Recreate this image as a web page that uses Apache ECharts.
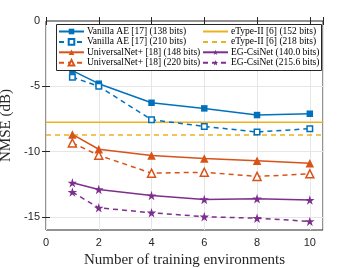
<!DOCTYPE html>
<html><head><meta charset="utf-8">
<script src="https://cdn.jsdelivr.net/npm/echarts@6/dist/echarts.min.js"></script>
<style>html,body{margin:0;padding:0;background:#fff}#c{width:357px;height:268px}</style>
</head><body><div id="c"></div>
<script>
const envs = [1, 2, 4, 6, 8, 10];
const vanilla138 = [-3.8, -4.8, -6.26, -6.69, -7.2, -7.1];
const vanilla210 = [-4.3, -5.0, -7.56, -8.07, -8.5, -8.24];
const univ148 = [-8.68, -9.82, -10.3, -10.53, -10.69, -10.89];
const univ220 = [-9.34, -10.28, -11.65, -11.58, -11.9, -11.7];
const etype152 = -7.76;
const etype218 = -8.73;
const eg140 = [-12.39, -12.9, -13.36, -13.66, -13.6, -13.71];
const eg2156 = [-13.1, -14.3, -14.68, -14.98, -15.1, -15.34];
const xTicks = [0, 2, 4, 6, 8, 10];
const yTicks = [-15, -10, -5, 0];
const names = ['Vanilla AE [17] (138 bits)', 'Vanilla AE [17] (210 bits)', 'UniversalNet+ [18] (148 bits)', 'UniversalNet+ [18] (220 bits)',
  'eType-II [6] (152 bits)', 'eType-II [6] (218 bits)', 'EG-CsiNet (140.0 bits)', 'EG-CsiNet (215.6 bits)'];

const BLUE = '#0072BD', ORANGE = '#D95319', YELLOW = '#EDB120', PURPLE = '#7E2F8E';
const STAR = 'path://M50,0 L61.8,36.2 L100,36.2 L69.1,58.8 L80.9,95.1 L50,72.5 L19.1,95.1 L30.9,58.8 L0,36.2 L38.2,36.2 Z';
const pts = arr => envs.map((x, i) => [x, arr[i]]);

function line(name, data, color, dashed, symbol, size, hollow) {
  return {
    name, type: 'line', data: pts(data), symbol, symbolSize: size,
    lineStyle: { color, width: 1.5, type: dashed ? [5, 4] : 'solid' },
    itemStyle: { color: hollow ? '#fff' : color, borderColor: color, borderWidth: hollow ? 1.5 : 0 },
    emphasis: { disabled: true }, animation: false, z: 3
  };
}
function hline(name, y, color, dashed) {
  return {
    name, type: 'line', data: [[0, y], [10.5, y]], symbol: 'none',
    lineStyle: { color, width: 1.5, type: dashed ? [5, 4] : 'solid' },
    itemStyle: { color }, animation: false, z: 2
  };
}
const axisText = { fontFamily: 'Liberation Sans', fontSize: 11, color: '#262626' };
const nameText = { fontFamily: 'Liberation Serif', fontSize: 15, color: '#262626' };
const tick = { show: true, inside: true, length: 4, lineStyle: { color: '#262626' } };
function legend(left, data) {
  return {
    orient: 'vertical', left, top: 26.5, padding: 0, z: 10,
    itemWidth: 25, itemHeight: 7, itemGap: 0.4,
    selectedMode: false,
    textStyle: { fontFamily: 'Liberation Serif', fontSize: 9.5, color: '#000', lineHeight: 10, padding: [0, 0, 0, -2] },
    data
  };
}
const noSymbol = n => ({ name: n, itemStyle: { opacity: 0 } });

const chart = echarts.init(document.getElementById('c'), null, { renderer: 'canvas' });
chart.setOption({
  backgroundColor: '#fff',
  animation: false,
  grid: { left: 46, right: 34, top: 21, bottom: 38, show: true, borderColor: '#262626', borderWidth: 1,
    containLabel: false, outerBoundsMode: 'none' },
  xAxis: [{
    type: 'value', min: 0, max: 10.5, interval: 2,
    name: 'Number of training environments', nameLocation: 'middle', nameGap: 21,
    nameTextStyle: nameText,
    axisLine: { show: false }, axisTick: tick,
    axisLabel: Object.assign({ margin: 7, formatter: v => xTicks.includes(v) ? String(v) : '' }, axisText),
    splitLine: { show: true, lineStyle: { color: '#e6e6e6', width: 1 } }
  }, {
    type: 'value', min: 0, max: 10.5, interval: 2, position: 'top',
    axisLine: { show: false }, axisTick: tick, axisLabel: { show: false }, splitLine: { show: false }
  }],
  yAxis: [{
    type: 'value', min: -16, max: 0,
    name: 'NMSE (dB)', nameLocation: 'middle', nameGap: 24,
    nameTextStyle: nameText,
    axisLine: { show: false },
    axisTick: Object.assign({ customValues: [-15, -10, -5] }, tick),
    axisLabel: Object.assign({ margin: 6, customValues: yTicks }, axisText),
    splitLine: { show: true, lineStyle: { color: '#e6e6e6', width: 1 } }
  }, {
    type: 'value', min: -16, max: 0, position: 'right',
    axisLine: { show: false },
    axisTick: Object.assign({ customValues: [-15, -10, -5] }, tick),
    axisLabel: { show: false, customValues: yTicks }, splitLine: { show: false }
  }],
  graphic: [{
    type: 'rect', shape: { x: 56.5, y: 24.5, width: 265, height: 46 }, z: 5,
    style: { fill: '#fff', stroke: '#262626', lineWidth: 1 }, silent: true
  }],
  legend: [legend(58, names.slice(0, 4)),
    legend(202, [noSymbol(names[4]), noSymbol(names[5]), names[6], names[7]])],
  series: [
    line(names[0], vanilla138, BLUE, false, 'rect', 6.5, false),
    line(names[1], vanilla210, BLUE, true, 'rect', 5.5, true),
    line(names[2], univ148, ORANGE, false, 'triangle', 8.5, false),
    line(names[3], univ220, ORANGE, true, 'triangle', 8, true),
    hline(names[4], etype152, YELLOW, false),
    hline(names[5], etype218, YELLOW, true),
    line(names[6], eg140, PURPLE, false, STAR, 9.5, false),
    line(names[7], eg2156, PURPLE, true, STAR, 9.5, false)
  ]
});
</script></body></html>
